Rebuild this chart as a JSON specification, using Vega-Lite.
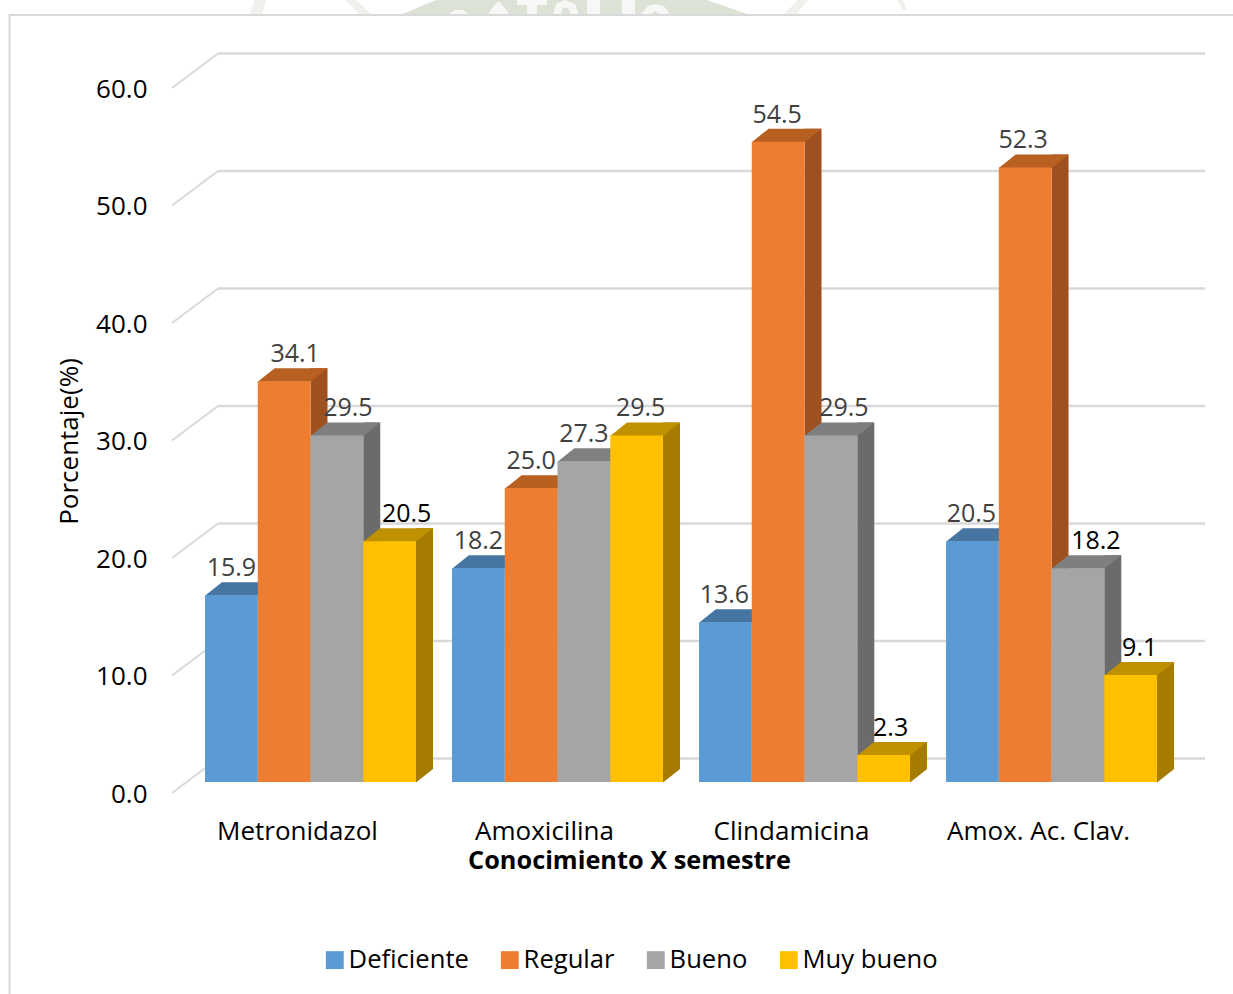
{
  "$schema": "https://vega.github.io/schema/vega-lite/v6.json",
  "autosize": "none",
  "padding": {"left": 218, "top": 77, "right": 28, "bottom": 212},
  "width": 987,
  "height": 705,
  "background": "white",
  "config": {"view": {"stroke": null}, "font": "Open Sans"},
  "datasets": {
    "bars": [
      {"farmaco": "Metronidazol", "nivel": "Deficiente", "pct": 15.9},
      {"farmaco": "Metronidazol", "nivel": "Regular", "pct": 34.1},
      {"farmaco": "Metronidazol", "nivel": "Bueno", "pct": 29.5},
      {"farmaco": "Metronidazol", "nivel": "Muy bueno", "pct": 20.5},
      {"farmaco": "Amoxicilina", "nivel": "Deficiente", "pct": 18.2},
      {"farmaco": "Amoxicilina", "nivel": "Regular", "pct": 25.0},
      {"farmaco": "Amoxicilina", "nivel": "Bueno", "pct": 27.3},
      {"farmaco": "Amoxicilina", "nivel": "Muy bueno", "pct": 29.5},
      {"farmaco": "Clindamicina", "nivel": "Deficiente", "pct": 13.6},
      {"farmaco": "Clindamicina", "nivel": "Regular", "pct": 54.5},
      {"farmaco": "Clindamicina", "nivel": "Bueno", "pct": 29.5},
      {"farmaco": "Clindamicina", "nivel": "Muy bueno", "pct": 2.3},
      {"farmaco": "Amox. Ac. Clav.", "nivel": "Deficiente", "pct": 20.5},
      {"farmaco": "Amox. Ac. Clav.", "nivel": "Regular", "pct": 52.3},
      {"farmaco": "Amox. Ac. Clav.", "nivel": "Bueno", "pct": 18.2},
      {"farmaco": "Amox. Ac. Clav.", "nivel": "Muy bueno", "pct": 9.1}
    ],
    "grid": [{"v": 0}, {"v": 10}, {"v": 20}, {"v": 30}, {"v": 40}, {"v": 50}, {"v": 60}],
    "single": [{"uno": 1}]
  },
  "data": {"name": "bars"},
  "layer": [
    {
      "description": "Page watermark: pale outer ring pieces",
      "data": {"name": "single"},
      "mark": {"type": "point", "shape": "M-366.5 -429.5L-355.5 -429.5L-339.5 -414.5L-351.5 -414.5ZM71.5 -414.5L84.5 -414.5L96.5 -429.5L86.5 -429.5ZM-461.5 -414.5L-449.5 -414.5L-445.5 -429.5L-457.5 -429.5ZM185.5 -429.5L191.5 -429.5L195.5 -419.5L191.5 -419.5Z", "size": 4, "filled": true, "fill": "#EEF1EC", "strokeWidth": 0, "opacity": 1},
      "encoding": {}
    },
    {
      "description": "Page watermark: seal disc",
      "data": {"name": "single"},
      "mark": {"type": "point", "shape": "M-311.5 -414.5L-275.5 -429.5L-4.5 -429.5L38.5 -414.5Z", "size": 4, "filled": true, "fill": "#DCE2D6", "strokeWidth": 0, "opacity": 1},
      "encoding": {}
    },
    {
      "description": "Page watermark: letters cut out of the seal",
      "data": {"name": "single"},
      "mark": {"type": "point", "shape": "M-264.5 -414.5L-256.5 -419.5L-248.5 -419.5L-241.5 -414.5ZM-224.5 -414.5L-214.5 -427.5L-211.5 -427.5L-201.5 -414.5ZM-194.5 -429.5L-164.5 -429.5L-164.5 -424.5L-174.5 -424.5L-174.5 -414.5L-184.5 -414.5L-184.5 -424.5L-194.5 -424.5ZM-158.5 -414.5L-155.5 -425.5L-146.5 -429.5L-136.5 -425.5L-132.5 -414.5L-140.5 -414.5L-143.5 -421.5L-148.5 -421.5L-151.5 -414.5ZM-124.5 -429.5L-111.5 -429.5L-111.5 -414.5L-124.5 -414.5ZM-89.5 -429.5L-76.5 -429.5L-76.5 -414.5L-89.5 -414.5ZM-71.5 -414.5L-63.5 -423.5L-56.5 -425.5L-47.5 -423.5L-41.5 -414.5L-51.5 -414.5L-56.5 -418.5L-61.5 -414.5Z", "size": 4, "filled": true, "fill": "#F7F8F6", "strokeWidth": 0, "opacity": 1},
      "encoding": {}
    },
    {
      "description": "Outer frame of the chart area",
      "data": {"name": "single"},
      "mark": {"type": "point", "shape": "M-702 570L-702 -414.5L525 -414.5", "size": 4, "filled": false, "stroke": "#D9D9D9", "strokeWidth": 2, "opacity": 1},
      "encoding": {}
    },
    {
      "description": "Back wall gridlines",
      "data": {"name": "grid"},
      "mark": {"type": "rule", "stroke": "#D9D9D9", "strokeWidth": 2.5, "yOffset": -23.5},
      "encoding": {"y": {"field": "v", "type": "quantitative", "scale": {"domain": [0, 60], "nice": false}}}
    },
    {
      "description": "Side wall gridlines running to the front of the floor",
      "data": {"name": "grid"},
      "mark": {"type": "point", "shape": "M-493.5 -23.5L-539.5 11", "size": 4, "filled": false, "stroke": "#D9D9D9", "strokeWidth": 2, "opacity": 1},
      "encoding": {"y": {"field": "v", "type": "quantitative"}}
    },
    {
      "description": "Right faces of the columns",
      "transform": [
        {"calculate": "indexof(['Deficiente','Regular','Bueno','Muy bueno'], datum.nivel) * 52.75 + 61.25", "as": "lado"},
        {"calculate": "0", "as": "suelo"}
      ],
      "mark": {"type": "rule", "strokeWidth": 17, "yOffset": -13, "y2Offset": -13},
      "encoding": {
        "x": {"field": "farmaco", "type": "nominal", "sort": null},
        "xOffset": {"field": "lado", "type": "quantitative", "scale": null},
        "y": {"field": "pct", "type": "quantitative"},
        "y2": {"field": "suelo"},
        "color": {"field": "nivel", "type": "nominal", "legend": null, "scale": {"domain": ["Deficiente", "Regular", "Bueno", "Muy bueno"], "range": ["#41719C", "#9E501E", "#6B6B6B", "#A67C00"]}}
      }
    },
    {
      "description": "Lower corners of the right faces",
      "transform": [{"calculate": "0", "as": "suelo"}],
      "mark": {"type": "point", "shape": "M26.4 0.5L43.5 -13L26.4 -13Z", "size": 4, "filled": true, "opacity": 1, "strokeWidth": 0},
      "encoding": {
        "x": {"field": "farmaco", "type": "nominal", "sort": null},
        "xOffset": {"field": "nivel", "type": "nominal", "sort": ["Deficiente", "Regular", "Bueno", "Muy bueno"]},
        "y": {"field": "suelo", "type": "quantitative"},
        "color": {"field": "nivel", "type": "nominal", "legend": null, "scale": {"domain": ["Deficiente", "Regular", "Bueno", "Muy bueno"], "range": ["#41719C", "#9E501E", "#6B6B6B", "#A67C00"]}}
      }
    },
    {
      "description": "Top faces of the columns",
      "mark": {"type": "point", "shape": "M-26.4 0.5L26.4 0.5L43.5 -13L-9.5 -13Z", "size": 4, "filled": true, "opacity": 1, "strokeWidth": 0},
      "encoding": {
        "x": {"field": "farmaco", "type": "nominal", "sort": null},
        "xOffset": {"field": "nivel", "type": "nominal", "sort": ["Deficiente", "Regular", "Bueno", "Muy bueno"]},
        "y": {"field": "pct", "type": "quantitative"},
        "color": {"field": "nivel", "type": "nominal", "legend": null, "scale": {"domain": ["Deficiente", "Regular", "Bueno", "Muy bueno"], "range": ["#4675A2", "#B85F22", "#7F7F7F", "#BF9000"]}}
      }
    },
    {
      "description": "Front faces of the columns",
      "mark": {"type": "bar"},
      "encoding": {
        "x": {
          "field": "farmaco", "type": "nominal", "sort": null,
          "scale": {"range": [-13, 939], "paddingInner": 0.146, "paddingOuter": 0, "align": 0},
          "axis": {
            "title": "Conocimiento X semestre", "titleFont": "Open Sans", "titleFontSize": 25.3, "titleFontWeight": "bold", "titleColor": "#000000",
            "titleX": 411, "titleY": 86, "titleBaseline": "alphabetic",
            "labelAngle": 0, "labelAlign": "center", "labelLimit": 400, "labelFont": "Open Sans", "labelFontSize": 26, "labelColor": "#000000", "labelPadding": 49, "labelOffset": -13,
            "ticks": false, "domain": false, "grid": false
          }
        },
        "xOffset": {"field": "nivel", "type": "nominal", "sort": ["Deficiente", "Regular", "Bueno", "Muy bueno"], "scale": {"paddingInner": 0, "paddingOuter": 0}},
        "y": {
          "field": "pct", "type": "quantitative",
          "scale": {"domain": [0, 60], "nice": false},
          "axis": {
            "title": "Porcentaje(%)", "titleFont": "Open Sans", "titleFontSize": 26, "titleFontWeight": "normal", "titleColor": "#000000",
            "titleX": -136, "titleY": 364,
            "values": [0, 10, 20, 30, 40, 50, 60], "format": ".1f",
            "labelFont": "Open Sans", "labelFontSize": 26, "labelColor": "#000000", "labelPadding": 71, "labelOffset": 12,
            "ticks": false, "domain": false, "grid": false
          }
        },
        "color": {
          "field": "nivel", "type": "nominal",
          "scale": {"domain": ["Deficiente", "Regular", "Bueno", "Muy bueno"], "range": ["#5B9BD5", "#ED7D31", "#A5A5A5", "#FFC000"]},
          "legend": {
            "title": null, "orient": "none", "legendX": 104, "legendY": 870, "direction": "horizontal", "columns": 4,
            "symbolType": "square", "symbolSize": 320, "symbolOpacity": 1, "symbolStrokeWidth": 0,
            "labelFont": "Open Sans", "labelFontSize": 25.6, "labelColor": "#000000", "labelOffset": 1, "columnPadding": 28
          }
        }
      }
    },
    {
      "description": "Value labels; a few sit to the side of the column they describe",
      "transform": [
        {"calculate": "indexof(['Deficiente','Regular','Bueno','Muy bueno'], datum.nivel)", "as": "orden"},
        {"calculate": "{'Metronidazol|Regular':11,'Metronidazol|Bueno':11,'Metronidazol|Muy bueno':17,'Amoxicilina|Muy bueno':4,'Clindamicina|Deficiente':-1,'Clindamicina|Regular':-1,'Clindamicina|Bueno':13,'Clindamicina|Muy bueno':7,'Amox. Ac. Clav.|Deficiente':-1,'Amox. Ac. Clav.|Regular':-2,'Amox. Ac. Clav.|Bueno':18,'Amox. Ac. Clav.|Muy bueno':9}[datum.farmaco + '|' + datum.nivel] || 0", "as": "corrimiento"},
        {"calculate": "(datum.orden + 0.5) * 52.75 + datum.corrimiento", "as": "desplazamiento"}
      ],
      "mark": {"type": "text", "font": "Open Sans", "fontSize": 25, "dy": -27, "baseline": "middle", "align": "center"},
      "encoding": {
        "x": {"field": "farmaco", "type": "nominal", "sort": null},
        "xOffset": {"field": "desplazamiento", "type": "quantitative", "scale": null},
        "y": {"field": "pct", "type": "quantitative"},
        "text": {"field": "pct", "type": "quantitative", "format": ".1f"},
        "color": {
          "condition": {"test": "(datum.nivel === 'Muy bueno' && datum.farmaco !== 'Amoxicilina') || (datum.nivel === 'Bueno' && datum.farmaco === 'Amox. Ac. Clav.')", "value": "#000000"},
          "value": "#404040"
        }
      }
    }
  ],
  "resolve": {"scale": {"color": "independent"}}
}
